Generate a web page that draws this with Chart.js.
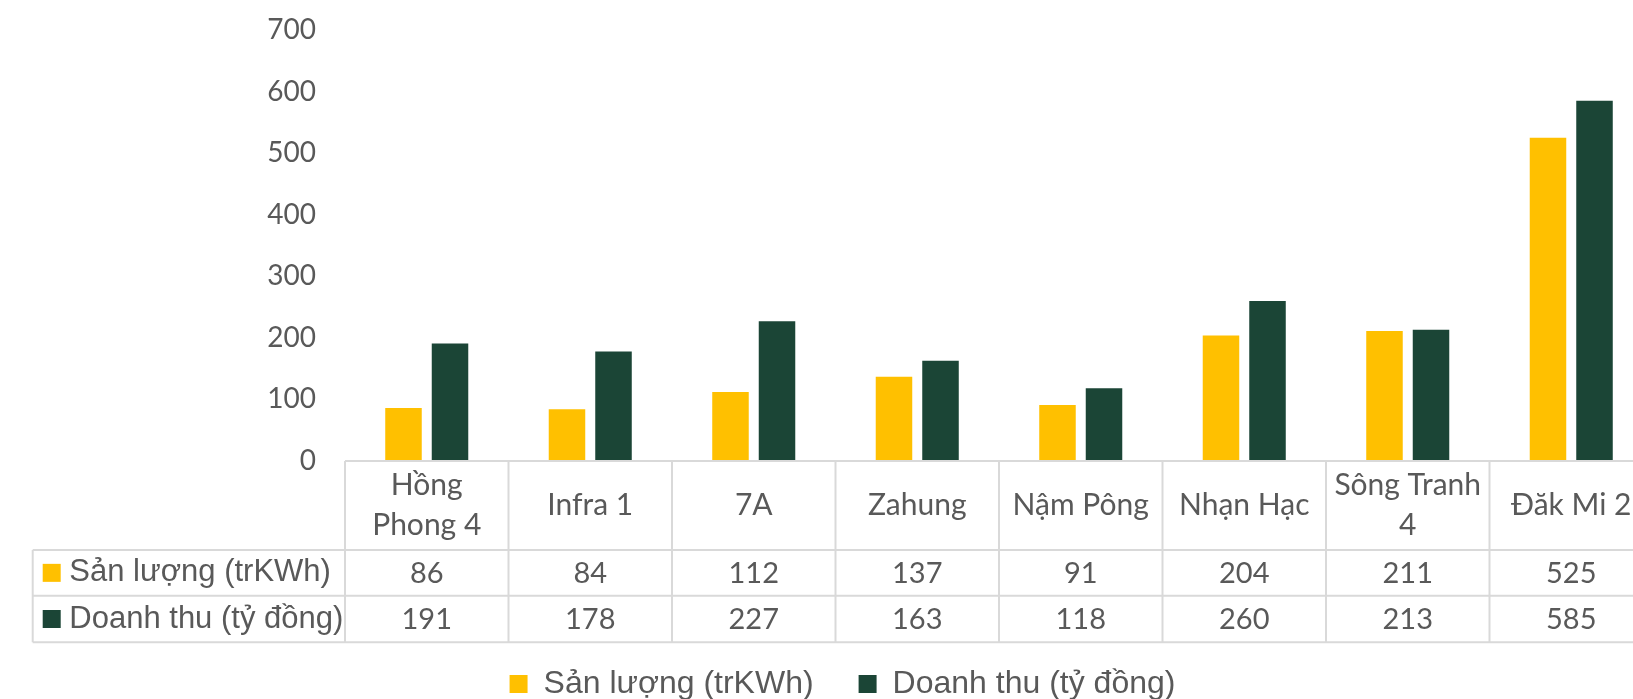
<!DOCTYPE html>
<html>
<head>
<meta charset="utf-8">
<script src="https://cdn.jsdelivr.net/npm/chart.js@4"></script>
<style>
  html, body { margin: 0; padding: 0; background: #fff; overflow: hidden; }
  canvas { display: block; }
</style>
</head>
<body>
<canvas id="hydroChart" width="1653" height="710"></canvas>
<script>
const categories = [['Hồng', 'Phong 4'], 'Infra 1', '7A', 'Zahung', 'Nậm Pông', 'Nhạn Hạc', ['Sông Tranh', '4'], 'Đăk Mi 2']
const sanLuong = [86, 84, 112, 137, 91, 204, 211, 525]
const doanhThu = [191, 178, 227, 163, 118, 260, 213, 585]
const seriesNames = ['Sản lượng (trKWh)', 'Doanh thu (tỷ đồng)']
const seriesColors = ['#FFC000', '#1B4536']
const yMax = 700
const yStep = 100

const TEXT = '#595959'
const LINE = '#d9d9d9'

// Excel-style data table under the plot, columns follow the x scale
const dataTable = {
    id: 'dataTable',
    afterDraw(chart) {
        const { ctx, chartArea, scales: { x } } = chart
        const half = (x.getPixelForValue(1) - x.getPixelForValue(0)) / 2
        const top = chartArea.bottom
        const rows = [top, top + 89, top + 134.7, top + 181.3]
        const labelLeft = 32.7
        const n = chart.data.labels.length

        ctx.save()
        ctx.strokeStyle = LINE
        ctx.lineWidth = 2

        ctx.beginPath()
        ctx.moveTo(chartArea.left, rows[0])
        ctx.lineTo(chartArea.right, rows[0])
        for (let r = 1; r < rows.length; r++) {
            ctx.moveTo(labelLeft, rows[r])
            ctx.lineTo(chartArea.right, rows[r])
        }
        ctx.moveTo(labelLeft, rows[1])
        ctx.lineTo(labelLeft, rows[3])
        for (let i = 0; i <= n; i++) {
            const xx = i < n ? x.getPixelForValue(i) - half : x.getPixelForValue(n - 1) + half
            ctx.moveTo(xx, rows[0])
            ctx.lineTo(xx, rows[3])
        }
        ctx.stroke()

        ctx.fillStyle = TEXT
        ctx.textAlign = 'center'
        ctx.textBaseline = 'middle'

        // header row
        ctx.font = '30px Lato'
        const headMid = (rows[0] + rows[1]) / 2
        chart.data.labels.forEach((lab, i) => {
            const lines = Array.isArray(lab) ? lab : [lab]
            const cx = x.getPixelForValue(i)
            lines.forEach((t, k) => {
                ctx.fillText(t, cx, headMid + (k - (lines.length - 1) / 2) * 40)
            })
        })

        // value rows
        ctx.font = '29px Lato'
        chart.data.datasets.forEach((ds, d) => {
            const mid = (rows[d + 1] + rows[d + 2]) / 2
            ds.data.forEach((v, i) => {
                ctx.fillText(String(v), x.getPixelForValue(i), mid + 1)
            })
        })

        // row labels with legend keys
        ctx.textAlign = 'left'
        ctx.font = '31px "Liberation Sans"'
        chart.data.datasets.forEach((ds, d) => {
            const mid = (rows[d + 1] + rows[d + 2]) / 2
            ctx.fillStyle = ds.backgroundColor
            ctx.fillRect(labelLeft + 10, mid - 9, 18, 18)
            ctx.fillStyle = TEXT
            ctx.fillText(ds.label, labelLeft + 36.6, mid)
        })
        ctx.restore()
    }
}

new Chart(document.getElementById('hydroChart'), {
    type: 'bar',
    data: {
        labels: categories,
        datasets: [
            { label: seriesNames[0], data: sanLuong, backgroundColor: seriesColors[0] },
            { label: seriesNames[1], data: doanhThu, backgroundColor: seriesColors[1] }
        ]
    },
    options: {
        responsive: false,
        animation: false,
        layout: { padding: { top: 30, left: 32, right: 0, bottom: 0 } },
        datasets: {
            bar: { categoryPercentage: 0.569, barPercentage: 0.785, borderWidth: 0 }
        },
        plugins: {
            tooltip: { enabled: false },
            legend: {
                position: 'bottom',
                labels: {
                    boxWidth: 18,
                    boxHeight: 18,
                    padding: 45,
                    color: TEXT,
                    font: { family: 'Liberation Sans', size: 32 }
                }
            }
        },
        scales: {
            x: {
                grid: { display: false },
                border: { display: false },
                ticks: { display: false },
                afterFit(scale) { scale.height = 162 }
            },
            y: {
                min: 0,
                max: yMax,
                grid: { display: false },
                border: { display: false },
                ticks: {
                    stepSize: yStep,
                    padding: 21,
                    color: TEXT,
                    font: { family: 'Lato', size: 28 }
                },
                afterFit(scale) {
                    scale.width = 313
                    scale.paddingTop = 0
                    scale.paddingBottom = 0
                }
            }
        }
    },
    plugins: [dataTable]
})
</script>
</body>
</html>
